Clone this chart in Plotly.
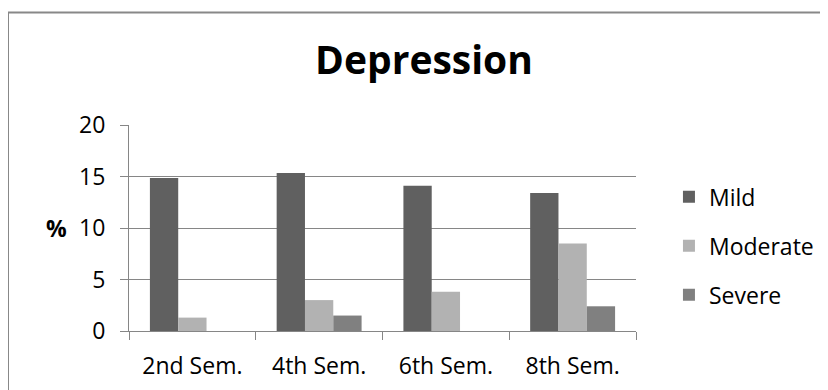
import plotly.graph_objects as go

categories = ["2nd Sem.", "4th Sem.", "6th Sem.", "8th Sem."]
mild = [14.85, 15.35, 14.1, 13.4]
moderate = [1.3, 3.0, 3.8, 8.5]
severe = [0, 1.5, 0, 2.4]
y_ticks = [0, 5, 10, 15, 20]

FONT = "Open Sans"
fig = go.Figure()
for name, vals, col in [("Mild", mild, "#606060"), ("Moderate", moderate, "#b2b2b2"), ("Severe", severe, "#808080")]:
    fig.add_trace(go.Bar(x=categories, y=vals, name=name, legendgroup=name,
                         marker=dict(color=col, line=dict(width=0))))

fig.update_layout(
    width=828, height=390,
    margin=dict(l=121, r=200, t=117, b=67),
    paper_bgcolor="white", plot_bgcolor="white",
    barmode="group", bargap=0.33, bargroupgap=0,
    font=dict(family=FONT, size=23, color="black"),
    title=dict(text="<b>Depression</b>", x=416/828, xanchor="center", y=1-52/390, yanchor="middle",
               font=dict(family=FONT, size=39, color="black")),
    legend=dict(x=1.065, xanchor="left", y=0.413, yanchor="middle", font=dict(size=23),
                tracegroupgap=16, itemwidth=30),
    showlegend=True,
    xaxis=dict(showline=True, linecolor="#868686", linewidth=1, ticks="outside", tickcolor="#868686",
               ticklen=8, tickson="boundaries", showgrid=False, tickfont=dict(size=23),
               ticklabelstandoff=14),
    yaxis=dict(range=[0, 20], tickvals=y_ticks, showline=True, linecolor="#868686", linewidth=1,
               ticks="outside", tickcolor="#868686", ticklen=8, showgrid=True, gridcolor="#868686",
               gridwidth=1, tickfont=dict(size=23), zeroline=False, ticklabelstandoff=10),
    annotations=[dict(text="<b>%</b>", xref="paper", yref="paper", x=(56-129)/507, y=0.5,
                      xanchor="center", yanchor="middle", showarrow=False, font=dict(size=23))],
    shapes=[dict(type="rect", xref="paper", yref="paper", x0=(8-129)/507, x1=(840-129)/507,
                 y0=(331-400)/206, y1=(331-12.5)/206, line=dict(color="#888888", width=2))],
)
fig.write_html("out.html")
